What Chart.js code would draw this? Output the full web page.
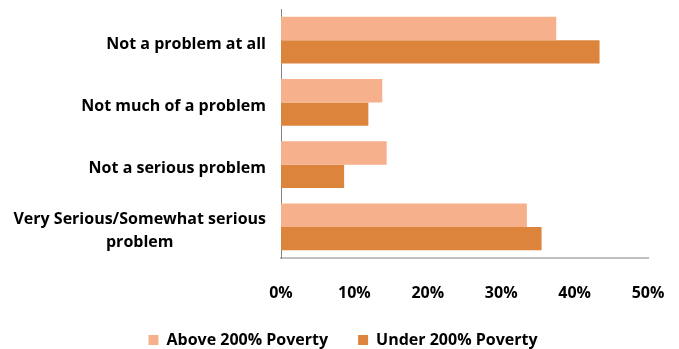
<!DOCTYPE html>
<html>
<head>
<meta charset="utf-8">
<script src="https://cdn.jsdelivr.net/npm/chart.js@4.4.1/dist/chart.umd.min.js"></script>
<style>
  html, body { margin: 0; padding: 0; background: #fff; }
  #wrap { width: 679px; height: 349px; }
</style>
</head>
<body>
<div id="wrap"><canvas id="myChart" width="679" height="349"></canvas></div>
<script>
// data (percent)
const categories = [
  ["Not a problem at all"],
  ["Not much of a problem"],
  ["Not a serious problem"],
  ["Very Serious/Somewhat serious", "problem"]
];
const aboveValues = [37.5, 13.8, 14.4, 33.5];
const underValues = [43.4, 11.9, 8.6, 35.5];
const seriesNames = ["Above 200% Poverty", "Under 200% Poverty"];
const xTicks = [0, 10, 20, 30, 40, 50];

const FONT = "'Open Sans', 'Liberation Sans', sans-serif";

// draws the category labels so that a two line label is centred like the original
const catLabels = {
  id: 'catLabels',
  afterLayout(chart) {
    // legend sits a bit right of the middle in the original
    const lg = chart.legend
    const shift = 343 - (lg.left + lg.right) / 2
    lg.left += shift
    lg.right += shift
  },
  afterDraw(chart) {
    const ctx = chart.ctx
    const y = chart.scales.y
    const right = y.right - 15
    ctx.save()
    ctx.font = "bold 16px " + FONT
    ctx.fillStyle = '#000'
    ctx.textAlign = 'center'
    ctx.textBaseline = 'middle'
    categories.forEach((lines, i) => {
      const mid = y.getPixelForValue(i)
      let w = 0
      lines.forEach(l => { w = Math.max(w, ctx.measureText(l).width) })
      const cx = right - w / 2
      const lh = 23
      const top = mid - (lines.length - 1) * lh / 2 + 4
      lines.forEach((l, j) => ctx.fillText(l, cx, top + j * lh))
    })
    ctx.restore()
  }
}

new Chart("myChart", {
  type: "bar",
  data: {
    labels: categories.map(c => c.join(' ')),
    datasets: [
      { label: seriesNames[0], data: aboveValues, backgroundColor: '#F6B18C', barPercentage: 1, categoryPercentage: 0.75 },
      { label: seriesNames[1], data: underValues, backgroundColor: '#DC843C', barPercentage: 1, categoryPercentage: 0.75 }
    ]
  },
  options: {
    indexAxis: 'y',
    responsive: false,
    animation: false,
    layout: { padding: { top: 9, right: 31, left: 0, bottom: 0 } },
    scales: {
      x: {
        min: 0,
        max: 50,
        afterBuildTicks: s => { s.ticks = xTicks.map(v => ({ value: v })) },
        afterFit: s => {
          s.height = 44
          s.paddingLeft = 0
          s.paddingRight = 0
        },
        grid: { display: false, drawTicks: false },
        border: { display: true, color: '#C0C0C0', width: 2 },
        ticks: {
          padding: 26,
          color: '#000',
          font: { family: FONT, size: 16, weight: 'bold' },
          callback: v => v + '%'
        }
      },
      y: {
        afterFit: s => { s.width = 281 },
        grid: { display: false, drawTicks: false },
        border: { display: true, color: '#868686', width: 1 },
        ticks: { display: false }
      }
    },
    plugins: {
      tooltip: { enabled: false },
      legend: {
        position: 'bottom',
        maxHeight: 47,
        labels: {
          boxWidth: 10,
          boxHeight: 10,
          padding: 30,
          color: '#000',
          font: { family: FONT, size: 16, weight: 'bold' }
        }
      }
    }
  },
  plugins: [catLabels]
})
</script>
</body>
</html>
